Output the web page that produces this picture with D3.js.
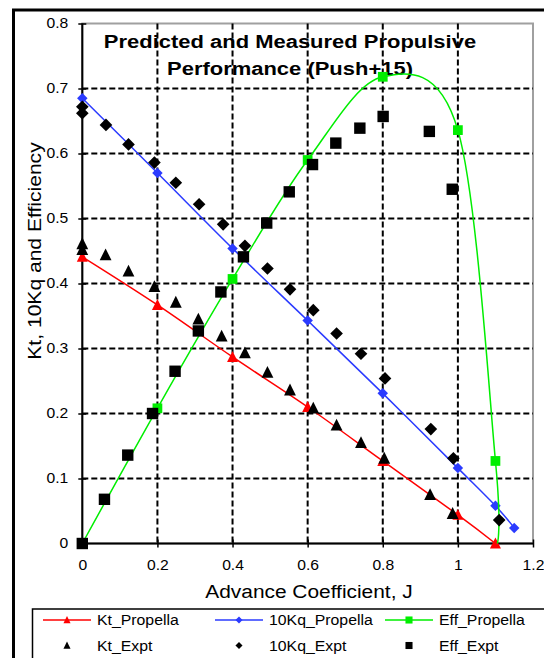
<!DOCTYPE html>
<html>
<head>
<meta charset="utf-8">
<script src="https://cdn.jsdelivr.net/npm/d3@7"></script>
<style>
  html, body { margin: 0; padding: 0; background: #fff; }
  svg { display: block; font-family: "Liberation Sans", Arial, sans-serif; }
</style>
</head>
<body>
<div id="chart"></div>
<script>
// predicted (model) curves
const J_PRED   = [0, 0.2, 0.4, 0.6, 0.8, 1.0, 1.1];
const KT_PRED  = [0.441, 0.367, 0.287, 0.210, 0.127, 0.044, 0.0];
const KQ_J     = [0, 0.2, 0.4, 0.6, 0.8, 1.0, 1.1, 1.15];
const KQ_PRED  = [0.685, 0.570, 0.454, 0.343, 0.231, 0.116, 0.058, 0.024];
const EFF_J    = [0, 0.2, 0.4, 0.6, 0.8, 1.0, 1.1, 1.105];
const EFF_PRED = [0, 0.208, 0.407, 0.590, 0.718, 0.636, 0.127, 0];

// measured (experiment) points
const KT_EXPT_J  = [0, 0, 0.062, 0.123, 0.192, 0.249, 0.309, 0.371, 0.433, 0.493, 0.553, 0.615, 0.677, 0.742, 0.804, 0.926, 0.986];
const KT_EXPT    = [0.461, 0.452, 0.444, 0.419, 0.395, 0.371, 0.345, 0.319, 0.293, 0.263, 0.236, 0.208, 0.182, 0.155, 0.131, 0.075, 0.046];
const KQ_EXPT_J  = [0, 0, 0.063, 0.123, 0.192, 0.249, 0.311, 0.375, 0.433, 0.493, 0.553, 0.615, 0.677, 0.742, 0.806, 0.928, 0.988, 1.11];
const KQ_EXPT    = [0.672, 0.662, 0.644, 0.614, 0.586, 0.555, 0.522, 0.491, 0.458, 0.423, 0.391, 0.359, 0.323, 0.292, 0.254, 0.176, 0.131, 0.036];
const EFF_EXPT_J = [0, 0.059, 0.121, 0.187, 0.247, 0.309, 0.369, 0.429, 0.491, 0.551, 0.613, 0.675, 0.739, 0.801, 0.924, 0.985];
const EFF_EXPT   = [0, 0.068, 0.136, 0.200, 0.265, 0.327, 0.387, 0.441, 0.493, 0.541, 0.583, 0.616, 0.639, 0.657, 0.634, 0.545];

const X_TICKS = [0, 0.2, 0.4, 0.6, 0.8, 1, 1.2];
const Y_TICKS = [0, 0.1, 0.2, 0.3, 0.4, 0.5, 0.6, 0.7, 0.8];

const TITLE   = ['Predicted and Measured Propulsive', 'Performance (Push+15)'];
const X_TITLE = 'Advance Coefficient, J';
const Y_TITLE = 'Kt, 10Kq and Efficiency';

const W = 544, H = 658;
const PL = 82.3, PR = 533, PT = 23.5, PB = 543.5;

const RED = '#ff0000', BLUE = '#2b3bff', GREEN = '#00ee00';

const x = d3.scaleLinear().domain([0, 1.2]).range([PL, PR]);
const y = d3.scaleLinear().domain([0, 0.8]).range([PB, PT]);

const svg = d3.select('#chart').append('svg')
  .attr('width', W).attr('height', H);

svg.append('rect').attr('width', W).attr('height', H).attr('fill', '#fff');

// outer chart frame (runs off the right and bottom edges)
svg.append('rect')
  .attr('x', 13.5).attr('y', 10).attr('width', 545).attr('height', 660)
  .attr('fill', 'none').attr('stroke', '#000').attr('stroke-width', 3);

// plot area frame
svg.append('rect')
  .attr('x', PL).attr('y', PT).attr('width', PR - PL).attr('height', PB - PT)
  .attr('fill', 'none').attr('stroke', '#a0a0a0').attr('stroke-width', 2);

// text widener: source font is about 15-20% wider than Arial
function stretch(sel, k) {
  sel.each(function() {
    const w = this.getComputedTextLength();
    d3.select(this).attr('textLength', w * k).attr('lengthAdjust', 'spacingAndGlyphs');
  });
}

// dashed grid
const grid = svg.append('g');
grid.selectAll('line.v')
  .data(X_TICKS.filter(d => d > 0 && d < 1.2))
  .join('line')
  .attr('x1', d => x(d)).attr('x2', d => x(d))
  .attr('y1', PT).attr('y2', PB);
grid.selectAll('line.h')
  .data(Y_TICKS.filter(d => d > 0 && d < 0.8))
  .join('line')
  .attr('x1', PL).attr('x2', PR)
  .attr('y1', d => y(d)).attr('y2', d => y(d));
grid.selectAll('line')
  .attr('stroke', '#000').attr('stroke-width', 2).attr('stroke-dasharray', '6,3');

// title
const title = svg.append('g')
  .attr('font-weight', 'bold').attr('font-size', 18).attr('text-anchor', 'middle');
title.selectAll('text')
  .data(TITLE)
  .join('text')
  .attr('x', 290).attr('y', (d, i) => 48 + i * 27)
  .text(d => d)
  .call(stretch, 1.22);

// axes
const xAxis = svg.append('g')
  .attr('transform', `translate(0,${PB})`)
  .call(d3.axisBottom(x).tickValues(X_TICKS).tickFormat(d3.format('')).tickSize(4).tickPadding(13));
const yAxis = svg.append('g')
  .attr('transform', `translate(${PL},0)`)
  .call(d3.axisLeft(y).tickValues(Y_TICKS).tickFormat(d3.format('')).tickSize(4).tickPadding(10));

[xAxis, yAxis].forEach(a => {
  a.select('.domain').attr('stroke', '#000').attr('stroke-width', 2);
  a.selectAll('.tick line').attr('stroke', '#000').attr('stroke-width', 1.5);
  a.selectAll('.tick text')
    .attr('font-family', '"Liberation Sans", Arial, sans-serif')
    .attr('font-size', 14).attr('fill', '#000')
    .call(stretch, 1.12);
});
xAxis.selectAll('.tick line').attr('y1', -4);
yAxis.selectAll('.tick line').attr('x1', 4);
xAxis.select('.domain').attr('d', `M${PL},0H${PR}`);
yAxis.select('.domain').attr('d', `M0,${PB}V${PT}`);

// axis titles
svg.append('text')
  .attr('x', 309).attr('y', 598)
  .attr('text-anchor', 'middle').attr('font-size', 18)
  .text(X_TITLE)
  .call(stretch, 1.16);
svg.append('text')
  .attr('transform', 'translate(41,251) rotate(-90)')
  .attr('text-anchor', 'middle').attr('font-size', 18)
  .text(Y_TITLE)
  .call(stretch, 1.17);

// marker shapes
const triangle = {
  draw(ctx, size) {
    const w = Math.sqrt(size);
    ctx.moveTo(0, -w * 0.55);
    ctx.lineTo(w * 0.5, w * 0.45);
    ctx.lineTo(-w * 0.5, w * 0.45);
    ctx.closePath();
  }
};
const diamond = {
  draw(ctx, size) {
    const r = Math.sqrt(size) / 2;
    ctx.moveTo(0, -r); ctx.lineTo(r, 0); ctx.lineTo(0, r); ctx.lineTo(-r, 0);
    ctx.closePath();
  }
};
const square = {
  draw(ctx, size) {
    const r = Math.sqrt(size) / 2;
    ctx.rect(-r, -r, 2 * r, 2 * r);
  }
};

const smooth = d3.line().x(d => x(d[0])).y(d => y(d[1])).curve(d3.curveCardinal.tension(0));
const zip = (a, b) => a.map((v, i) => [v, b[i]]);

const plot = svg.append('g');

function drawMarkers(pts, type, size, color) {
  plot.append('g').selectAll('path')
    .data(pts)
    .join('path')
    .attr('transform', d => `translate(${x(d[0])},${y(d[1])})`)
    .attr('d', d3.symbol().type(type).size(size))
    .attr('fill', color);
}

function drawSeries(pts, color, type, size, nMarkers) {
  plot.append('path')
    .datum(pts)
    .attr('d', smooth)
    .attr('fill', 'none').attr('stroke', color).attr('stroke-width', 1.5);
  drawMarkers(pts.slice(0, nMarkers), type, size, color);
}

const ktPts  = zip(J_PRED, KT_PRED);
const kqPts  = zip(KQ_J, KQ_PRED);
const effPts = zip(EFF_J, EFF_PRED);

drawSeries(ktPts, RED, triangle, 120, ktPts.length);
drawSeries(kqPts, BLUE, diamond, 110, kqPts.length);
drawSeries(effPts, GREEN, square, 95, effPts.length - 1);

drawMarkers(zip(KT_EXPT_J, KT_EXPT), triangle, 140, '#000');
drawMarkers(zip(KQ_EXPT_J, KQ_EXPT), diamond, 160, '#000');
drawMarkers(zip(EFF_EXPT_J, EFF_EXPT), square, 130, '#000');

// legend
const LEGEND = [
  { name: 'Kt_Propella',   color: RED,    type: triangle, line: true },
  { name: '10Kq_Propella', color: BLUE,   type: diamond,  line: true },
  { name: 'Eff_Propella',  color: GREEN,  type: square,   line: true },
  { name: 'Kt_Expt',       color: '#000', type: triangle, line: false },
  { name: '10Kq_Expt',     color: '#000', type: diamond,  line: false },
  { name: 'Eff_Expt',      color: '#000', type: square,   line: false }
];
const colX = [43, 215, 385];
const rowY = [620, 645.5];

svg.append('rect')
  .attr('x', 32.5).attr('y', 609).attr('width', 530).attr('height', 70)
  .attr('fill', '#fff').attr('stroke', '#000').attr('stroke-width', 1.5);

const items = svg.append('g').selectAll('g')
  .data(LEGEND)
  .join('g')
  .attr('transform', (d, i) => `translate(${colX[i % 3]},${rowY[Math.floor(i / 3)]})`);

items.filter(d => d.line).append('line')
  .attr('x1', 0).attr('x2', 48)
  .attr('stroke', d => d.color).attr('stroke-width', 1.6);
items.append('path')
  .attr('transform', 'translate(24,0)')
  .attr('d', d => d3.symbol().type(d.type).size(50)())
  .attr('fill', d => d.color);
items.append('text')
  .attr('x', 54).attr('dy', '0.36em')
  .attr('font-size', 14)
  .text(d => d.name)
  .call(stretch, 1.13);
</script>
</body>
</html>
